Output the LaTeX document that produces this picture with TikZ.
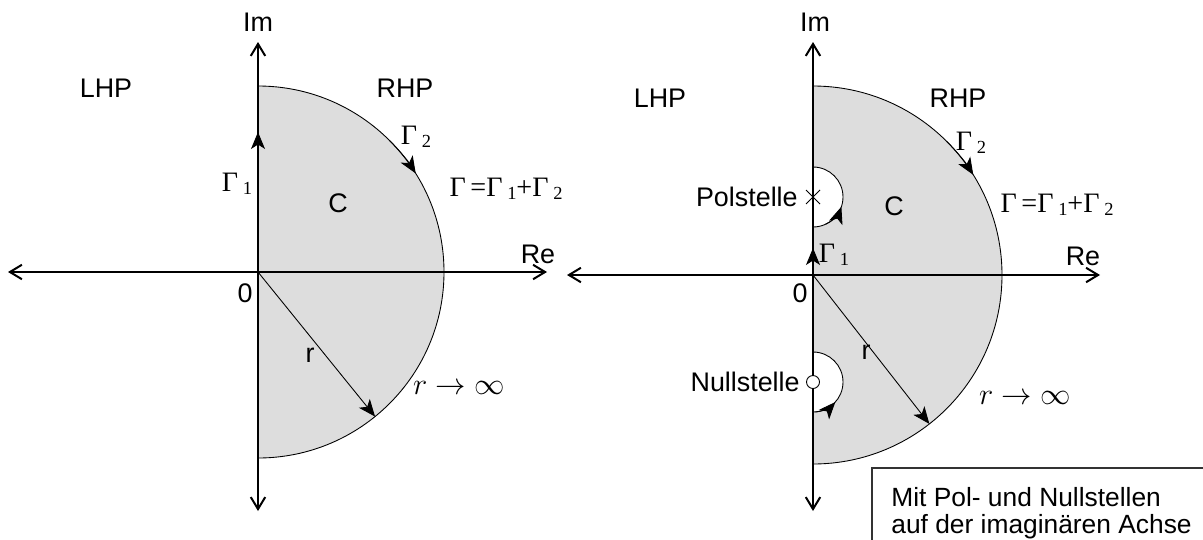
\documentclass[tikz,border=0pt]{standalone}
\usepackage{fontspec}
\setmainfont{Liberation Sans}
\newfontfamily\serif{Liberation Serif}
\usetikzlibrary{arrows.meta}
\definecolor{regiongray}{HTML}{DDDDDD}
\newcommand\gam[1]{\char"0393\,\raisebox{-0.12em}{\fontsize{10.5}{11}\selectfont #1}}
\tikzset{
  axis/.style={line width=0.04cm, {Straight Barb[length=2.4mm,width=2.9mm]}-{Straight Barb[length=2.4mm,width=2.9mm]}},
  contour/.style={line width=0.5pt},
  tip/.style={line width=0.5pt, -{Stealth[length=3.4mm,width=2.8mm,inset=0.9mm]}},
  lbl/.style={inner sep=0pt, font=\fontsize{15.3}{18}\selectfont},
  glbl/.style={inner sep=0pt, font=\serif\fontsize{16}{18}\selectfont},
  mlbl/.style={inner sep=0pt, font=\fontsize{16}{18}\selectfont}
}
\begin{document}
\begin{tikzpicture}[x=0.02cm,y=0.02cm]
\useasboundingbox (0,0) rectangle (1203,539);
% left: no poles or zeros on the axis
\begin{scope}[shift={(258,267)}]
\filldraw[fill=regiongray, contour] (0,-186) -- (0,186) arc[start angle=90, end angle=-90, radius=186] -- cycle;
\draw[axis] (-250,0) -- (289,0);
\draw[axis] (0,-239) -- (0,230);
\coordinate (o1) at (0,0);
\coordinate (r1) at (-51:186);
\draw[tip] (o1) -- (r1);
\draw[tip] (0,100) -- (0,140);
\draw[tip] (45:186) arc[start angle=45, end angle=32, radius=186];
\node[lbl] (im1) at (0,250) {Im};
\node[lbl] (re1) at (280,18) {Re};
\node[lbl] (lhp1) at (-152,184) {LHP};
\node[lbl] (rhp1) at (147,184) {RHP};
\node[lbl] (c1) at (80,69) {C};
\node[lbl] (zero1) at (-13,-21) {0};
\node[lbl] (rad1) at (52,-83) {r};
\node[glbl] (ga1) at (-21,88) {\gam{1}};
\node[glbl] (gb1) at (158,135) {\gam{2}};
\node[glbl] (gsum1) at (248,83) {\char"0393\,=\gam{1}+\gam{2}};
\node[mlbl] (inf1) at (201,-116) {$r\rightarrow\infty$};
\end{scope}
% right: pole and zero on the imaginary axis
\begin{scope}[shift={(813,264)}]
\filldraw[fill=regiongray, contour] (0,-189) -- (0,-137) arc[start angle=-90, end angle=90, radius=30]
  -- (0,48) arc[start angle=-90, end angle=90, radius=30]
  -- (0,189) arc[start angle=90, end angle=-90, radius=189] -- cycle;
\draw[axis] (-246,0) -- (287,0);
\draw[axis] (0,-236) -- (0,233);
\coordinate (o2) at (0,0);
\coordinate (r2) at (-52:189);
\coordinate (pol) at (0,78);
\coordinate (nul) at (0,-107);
\draw[tip] (o2) -- (r2);
\draw[tip] (0,-10) -- (0,27);
\draw[tip] (45:189) arc[start angle=45, end angle=32, radius=189];
\draw[tip] ([shift={(-65:30)}]pol) arc[start angle=-65, end angle=-19, radius=30];
\draw[tip] ([shift={(-85:30)}]nul) arc[start angle=-85, end angle=-42, radius=30];
\draw[contour] ([shift={(-7,-7)}]pol) -- ([shift={(7,7)}]pol);
\draw[contour] ([shift={(-7,7)}]pol) -- ([shift={(7,-7)}]pol);
\filldraw[fill=white, contour] (nul) circle (6.5);
\node[lbl] (im2) at (2,253) {Im};
\node[lbl] (re2) at (270,19) {Re};
\node[lbl] (lhp2) at (-153,177) {LHP};
\node[lbl] (rhp2) at (145,177) {RHP};
\node[lbl] (c2) at (81,69) {C};
\node[lbl] (zero2) at (-13,-18) {0};
\node[lbl] (rad2) at (53,-77) {r};
\node[lbl, anchor=east] (poltxt) at (-15,78) {Polstelle};
\node[lbl, anchor=east] (nultxt) at (-13,-107) {Nullstelle};
\node[glbl] (ga2) at (21,20) {\gam{1}};
\node[glbl] (gb2) at (158,132) {\gam{2}};
\node[glbl] (gsum2) at (244,70) {\char"0393\,=\gam{1}+\gam{2}};
\node[mlbl] (inf2) at (212,-123) {$r\rightarrow\infty$};
\end{scope}
% note box, cut off by the page edge
\draw[line width=0.6pt, black!80] (1230,71) -- (872,71) -- (872,-20);
\node[lbl, anchor=base west, font=\fontsize{15}{18}\selectfont] (note1) at (891,33) {Mit Pol- und Nullstellen};
\node[lbl, anchor=base west, font=\fontsize{15}{18}\selectfont] (note2) at (891,6) {auf der imaginären Achse};
\end{tikzpicture}
\end{document}
